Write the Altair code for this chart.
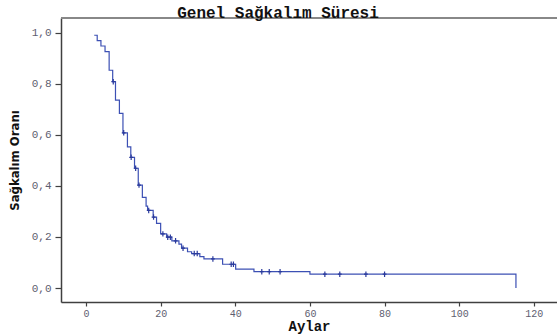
import altair as alt
import pandas as pd

# Kaplan-Meier step points (time in months, survival proportion after the event)
event_times = [2.2, 3.0, 4.0, 5.1, 6.2, 7.15, 7.9, 8.95, 9.9, 11.1, 12.0, 13.0, 14.0,
               15.1, 16.1, 16.5, 18.0, 18.9, 20.0, 21.6, 23.0, 24.9, 25.6, 27.2, 28.3,
               30.5, 31.6, 36.6, 40.1, 45.0, 60.0, 115.2]
survival = [0.990, 0.969, 0.948, 0.926, 0.853, 0.808, 0.736, 0.684, 0.608, 0.553, 0.512,
            0.469, 0.403, 0.355, 0.321, 0.304, 0.278, 0.253, 0.212, 0.199, 0.185, 0.172,
            0.156, 0.142, 0.135, 0.123, 0.114, 0.093, 0.074, 0.064, 0.054, 0.0]
# censored observations
censor_times = [7.3, 10.1, 12.1, 13.3, 14.2, 16.8, 18.1, 20.6, 21.9, 22.6, 24.0, 26.0,
                29.0, 29.8, 34.0, 38.9, 39.5, 47.1, 49.1, 52.0, 64.0, 68.0, 75.0, 80.0]

x_ticks = [0, 20, 40, 60, 80, 100, 120]
y_ticks = [0.0, 0.2, 0.4, 0.6, 0.8, 1.0]

title_text = "Genel Sağkalım Süresi"
x_title = "Aylar"
y_title = "Sağkalım Oranı"

curve = pd.DataFrame({"t": event_times, "s": survival, "i": range(len(event_times))})


def surv_at(t):
    val = survival[0]
    for et, sv in zip(event_times, survival):
        if et <= t:
            val = sv
    return val


cens = pd.DataFrame({"t": censor_times, "s": [surv_at(t) for t in censor_times]})

mono = "Liberation Mono, DejaVu Sans Mono, monospace"
lab_col = "#5E5E70"

xs = alt.Scale(domain=[-6.7, 126.2], nice=False, zero=False)
ys = alt.Scale(domain=[-0.0548, 1.0576], nice=False, zero=False)

x_axis = alt.Axis(values=x_ticks, title=x_title, grid=False, domainColor="#404040",
                  domainWidth=1.5, tickColor="#404040", tickSize=4, tickWidth=1.2,
                  labelFont=mono, labelFontSize=10, labelColor=lab_col, labelPadding=2,
                  titleFont=mono, titleFontSize=14, titleFontWeight="bold",
                  titleColor="#111111", titlePadding=1)
y_axis = alt.Axis(values=y_ticks, title=y_title, grid=False, domainColor="#404040",
                  domainWidth=1.5, tickColor="#404040", tickSize=6, tickWidth=1.2,
                  labelFont=mono, labelFontSize=11, labelColor=lab_col, labelPadding=4,
                  labelExpr="replace(format(datum.value, '.1f'), '.', ',')",
                  titleFont="Liberation Sans Narrow, DejaVu Sans Condensed, sans-serif",
                  titleFontSize=13, titleFontWeight="bold", titleColor="#111111",
                  titlePadding=10)

line = alt.Chart(curve).mark_line(interpolate="step-after", color="#3C50B4",
                                  strokeWidth=1.2).encode(
    x=alt.X("t:Q", scale=xs, axis=x_axis),
    y=alt.Y("s:Q", scale=ys, axis=y_axis),
    order="i:Q",
)

ticks = alt.Chart(cens).mark_point(
    shape="M0,-1L0,1M-0.7,0L0.7,0", filled=False, color="#2A3A9C",
    strokeWidth=1.2, size=30, opacity=1,
).encode(x=alt.X("t:Q", scale=xs), y=alt.Y("s:Q", scale=ys))

top_border = alt.Chart(curve).mark_rule(color="#888888", strokeWidth=1.5).encode(
    y=alt.value(0)
)

chart = alt.layer(line, ticks, top_border).properties(
    width=496, height=284,
    title=alt.TitleParams(title_text, font=mono, fontSize=16, fontWeight="bold",
                          color="#111111", anchor="middle", dx=-31, offset=-4),
    autosize=alt.AutoSizeParams(type="none"),
    padding={"left": 61, "top": 18, "right": 0, "bottom": 34},
).configure_view(fill="#EBEBEB", stroke=None).configure(background="white")

chart.save("out.html", embed_options={"renderer": "svg", "actions": False})
